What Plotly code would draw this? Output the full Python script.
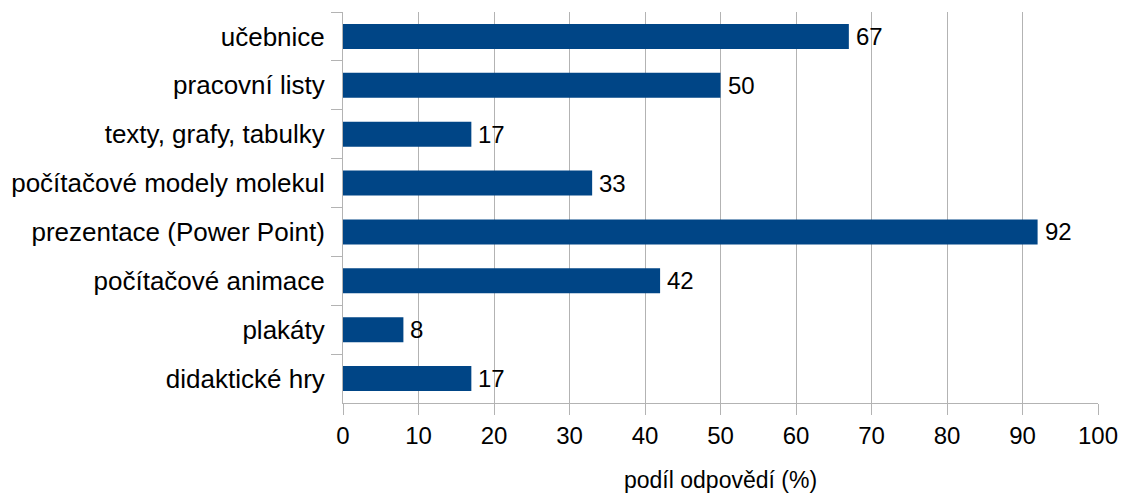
import plotly.graph_objects as go

categories = [
    "učebnice",
    "pracovní listy",
    "texty, grafy, tabulky",
    "počítačové modely molekul",
    "prezentace (Power Point)",
    "počítačové animace",
    "plakáty",
    "didaktické hry",
]
values = [67, 50, 17, 33, 92, 42, 8, 17]
x_ticks = [0, 10, 20, 30, 40, 50, 60, 70, 80, 90, 100]
x_title = "podíl odpovědí (%)"

FONT = "Liberation Sans, Arial, sans-serif"
GRID = "#b3b3b3"

fig = go.Figure(
    go.Bar(
        x=values,
        y=categories,
        orientation="h",
        marker=dict(color="#004586", line=dict(width=0)),
        hoverinfo="x+y",
    )
)

# value labels just to the right of each bar end
for cat, val in zip(categories, values):
    fig.add_annotation(
        x=val,
        y=cat,
        xref="x",
        yref="y",
        text=str(val),
        showarrow=False,
        xanchor="left",
        yanchor="middle",
        xshift=5,
        font=dict(family=FONT, size=24, color="#000000"),
    )

# x-axis title placed below the tick labels
fig.add_annotation(
    x=0.5,
    y=-0.197,
    xref="paper",
    yref="paper",
    text=x_title,
    showarrow=False,
    xanchor="center",
    yanchor="middle",
    borderpad=0,
    font=dict(family=FONT, size=23, color="#000000"),
)

fig.update_layout(
    width=1127,
    height=495,
    margin=dict(l=343, r=29, t=12, b=92),
    paper_bgcolor="white",
    plot_bgcolor="white",
    bargap=0.49,
    showlegend=False,
    font=dict(family=FONT, size=24, color="#000000"),
    xaxis=dict(
        range=[0, 100],
        tickvals=x_ticks,
        showgrid=True,
        gridcolor=GRID,
        gridwidth=1,
        zeroline=False,
        showline=True,
        linecolor=GRID,
        linewidth=1,
        ticks="outside",
        ticklen=11,
        tickcolor=GRID,
        tickfont=dict(size=24),
        automargin=False,
    ),
    yaxis=dict(
        autorange="reversed",
        showgrid=False,
        showline=True,
        linecolor=GRID,
        linewidth=1,
        ticks="outside",
        ticklen=11,
        tickcolor=GRID,
        tickson="boundaries",
        ticklabelstandoff=12,
        tickfont=dict(size=26),
        automargin=False,
    ),
)

fig.write_html("out.html")
